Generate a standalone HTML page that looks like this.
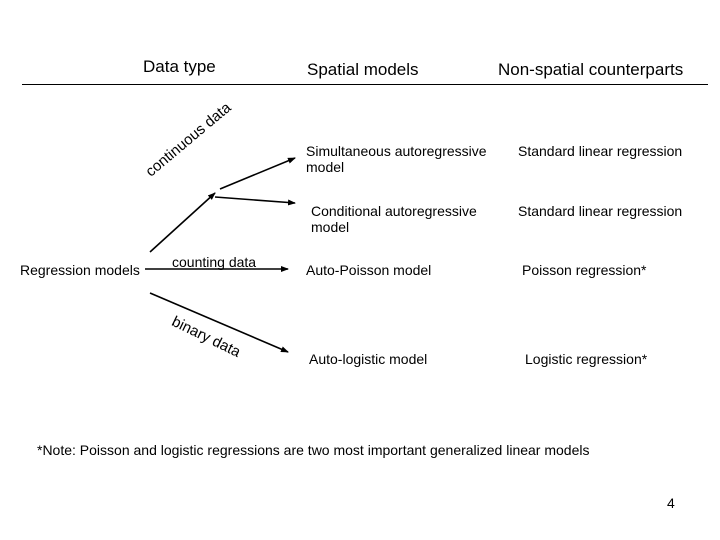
<!DOCTYPE html>
<html><head><style>
body{margin:0;width:720px;height:540px;background:#fff;font-family:"Liberation Sans",sans-serif;position:relative;overflow:hidden}
.t{position:absolute;font-size:14px;color:#000;white-space:nowrap;line-height:16px}
.h{font-size:17px;line-height:18px}
</style></head><body>
<div class="t h" style="left:143px;top:58px">Data type</div>
<div class="t h" style="left:307px;top:61px">Spatial models</div>
<div class="t h" style="left:498px;top:61px">Non-spatial counterparts</div>
<div style="position:absolute;left:22px;top:84px;width:686px;height:1px;background:#000"></div>

<div class="t" style="left:306px;top:143px">Simultaneous autoregressive<br>model</div>
<div class="t" style="left:518px;top:143px">Standard linear regression</div>
<div class="t" style="left:311px;top:203px">Conditional autoregressive<br>model</div>
<div class="t" style="left:518px;top:203px">Standard linear regression</div>
<div class="t" style="left:20px;top:262px">Regression models</div>
<div class="t" style="left:172px;top:254px">counting data</div>
<div class="t" style="left:306px;top:262px">Auto-Poisson model</div>
<div class="t" style="left:522px;top:262px">Poisson regression*</div>
<div class="t" style="left:309px;top:351px">Auto-logistic model</div>
<div class="t" style="left:525px;top:351px">Logistic regression*</div>
<div class="t" style="left:37px;top:442px">*Note: Poisson and logistic regressions are two most important generalized linear models</div>
<div class="t" style="left:667px;top:495px">4</div>

<div class="t" style="left:143px;top:168px;transform:rotate(-40deg);transform-origin:0 0;font-size:15px">continuous data</div>
<div class="t" style="left:176px;top:314px;transform:rotate(26deg);transform-origin:0 0;font-size:15px">binary data</div>

<svg width="720" height="540" style="position:absolute;left:0;top:0">
<defs><marker id="a" markerWidth="8" markerHeight="6" refX="7" refY="3" orient="auto" markerUnits="userSpaceOnUse"><path d="M0,0L8,3L0,6z" fill="#000"/></marker></defs>
<g stroke="#000" stroke-width="1.6" fill="none">
<line x1="150" y1="252" x2="215" y2="193" marker-end="url(#a)"/>
<line x1="220" y1="189" x2="295" y2="158" marker-end="url(#a)"/>
<line x1="215" y1="197" x2="295" y2="203" marker-end="url(#a)"/>
<line x1="145" y1="269" x2="288" y2="269" marker-end="url(#a)"/>
<line x1="150" y1="293" x2="288" y2="352" marker-end="url(#a)"/>
</g></svg>
</body></html>
